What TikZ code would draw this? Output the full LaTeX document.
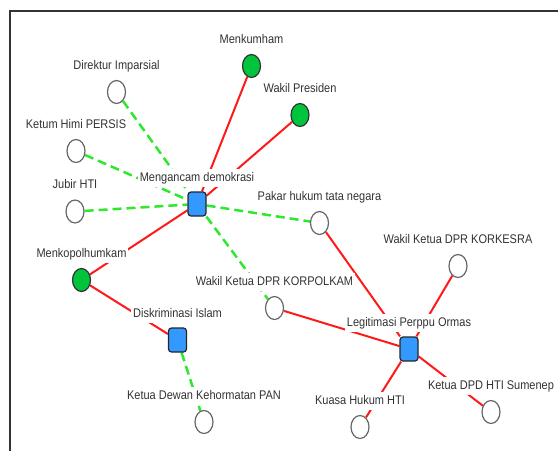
\documentclass[tikz,border=0pt]{standalone}
\usepackage{fontspec}
\usepackage{graphicx}
\setmainfont{Liberation Sans}
\usetikzlibrary{shapes.geometric}
\pgfdeclarelayer{edges}
\pgfsetlayers{edges,main}
\definecolor{officialgreen}{HTML}{00C43C}
\definecolor{issueblue}{HTML}{3399FF}
\definecolor{supportgreen}{HTML}{2EE82E}
\definecolor{opposered}{HTML}{FF1A1A}
\definecolor{labelgrey}{HTML}{333333}
\definecolor{framegrey}{HTML}{333333}
% slightly tall lettering for the node names
\newcommand{\tallname}[1]{\scalebox{1}[1.14]{#1}}

\begin{document}
\begin{tikzpicture}[x=1pt,y=-1pt,
  actor/.style={ellipse, draw=black!60, fill=white, line width=1.2pt,
    minimum width=18pt, minimum height=23pt, inner sep=0pt},
  official/.style={actor, fill=officialgreen, draw=black!80},
  issue/.style={rectangle, rounded corners=3pt, fill=issueblue, draw=black!85,
    line width=1.2pt, minimum width=18pt, minimum height=24pt, inner sep=0pt},
  tag/.style={fill=white, text=labelgrey, font=\fontsize{11}{13}\selectfont,
    text height=9.6pt, text depth=2.8pt, inner xsep=2pt, inner ysep=2.5pt},
  oppose/.style={draw=opposered, line width=2pt},
  support/.style={draw=supportgreen, line width=2.5pt, dash pattern=on 9pt off 5pt}]

\useasboundingbox (0,0) rectangle (558,451);

% frame edges
\draw[framegrey, line width=1.5pt] (558,11) -- (10,11) -- (10,451);

% actors and issues
\node[official] (menkumham) at (251.5,66) {};
\node[official] (wakilpres) at (300,115) {};
\node[actor] (direktur) at (116.5,92) {};
\node[actor] (ketum) at (76,151) {};
\node[actor] (jubir) at (75,211.5) {};
\node[issue] (mengancam) at (197,204) {};
\node[actor] (pakar) at (319.5,223) {};
\node[official] (menkopol) at (81.5,280) {};
\node[actor] (korpolkam) at (274.5,308) {};
\node[actor] (korkesra) at (458,266) {};
\node[issue] (diskriminasi) at (177.5,340) {};
\node[issue] (legitimasi) at (409,349) {};
\node[actor] (pan) at (204,422) {};
\node[actor] (kuasa) at (360,427) {};
\node[actor] (sumenep) at (491,412) {};

% names above the nodes
\node[tag] (menkumham-l) at ([yshift=26pt]menkumham.center) {\tallname{Menkumham}};
\node[tag] (wakilpres-l) at ([yshift=26pt]wakilpres.center) {\tallname{Wakil Presiden}};
\node[tag] (direktur-l) at ([yshift=26pt]direktur.center) {\tallname{Direktur Imparsial}};
\node[tag] (ketum-l) at ([yshift=26pt]ketum.center) {\tallname{Ketum Himi PERSIS}};
\node[tag] (jubir-l) at ([yshift=26pt]jubir.center) {\tallname{Jubir HTI}};
\node[tag] (mengancam-l) at ([yshift=26pt]mengancam.center) {\tallname{Mengancam demokrasi}};
\node[tag] (pakar-l) at ([yshift=26pt]pakar.center) {\tallname{Pakar hukum tata negara}};
\node[tag] (menkopol-l) at ([yshift=26pt]menkopol.center) {\tallname{Menkopolhumkam}};
\node[tag] (korpolkam-l) at ([yshift=26pt]korpolkam.center) {\tallname{Wakil Ketua DPR KORPOLKAM}};
\node[tag] (korkesra-l) at ([yshift=26pt]korkesra.center) {\tallname{Wakil Ketua DPR KORKESRA}};
\node[tag] (diskriminasi-l) at ([yshift=26pt]diskriminasi.center) {\tallname{Diskriminasi Islam}};
\node[tag] (legitimasi-l) at ([yshift=26pt]legitimasi.center) {\tallname{Legitimasi Perppu Ormas}};
\node[tag] (pan-l) at ([yshift=26pt]pan.center) {\tallname{Ketua Dewan Kehormatan PAN}};
\node[tag] (kuasa-l) at ([yshift=26pt]kuasa.center) {\tallname{Kuasa Hukum HTI}};
\node[tag] (sumenep-l) at ([yshift=26pt]sumenep.center) {\tallname{Ketua DPD HTI Sumenep}};

% connectors, kept beneath nodes and names
\begin{pgfonlayer}{edges}
  \draw[oppose] (mengancam) -- (menkumham);
  \draw[oppose] (mengancam) -- (wakilpres);
  \draw[oppose] (mengancam) -- (menkopol);
  \draw[support] (direktur) -- (mengancam);
  \draw[support] (ketum) -- (mengancam);
  \draw[support] (jubir) -- (mengancam);
  \draw[support] (mengancam) -- (pakar);
  \draw[support] (mengancam) -- (korpolkam);
  \draw[oppose] (menkopol) -- (diskriminasi);
  \draw[support] (diskriminasi) -- (pan);
  \draw[oppose] (pakar) -- (legitimasi);
  \draw[oppose] (korkesra) -- (legitimasi);
  \draw[oppose] (korpolkam) -- (legitimasi);
  \draw[oppose] (legitimasi) -- (kuasa);
  \draw[oppose] (legitimasi) -- (sumenep);
\end{pgfonlayer}
\end{tikzpicture}
\end{document}
